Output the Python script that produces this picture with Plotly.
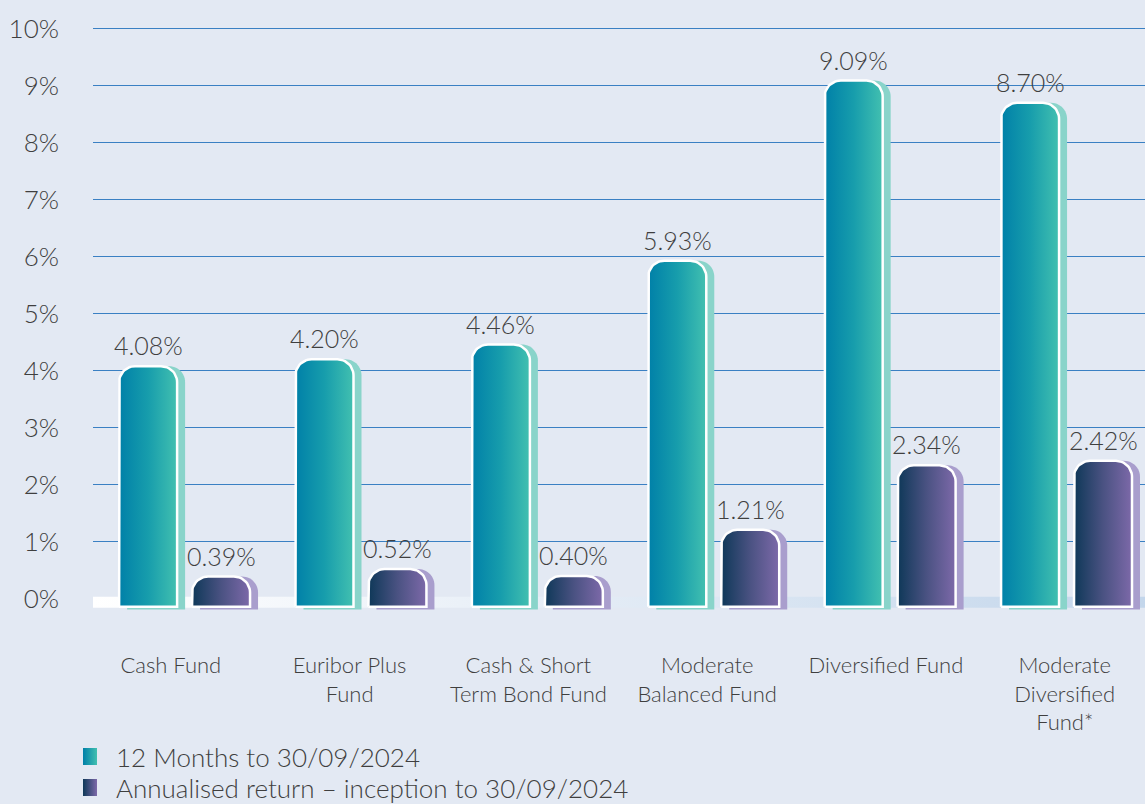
import base64
import numpy as np
import plotly.graph_objects as go

# ---- data -------------------------------------------------------------
categories = [
    "Cash Fund",
    "Euribor Plus<br>Fund",
    "Cash & Short<br>Term Bond Fund",
    "Moderate<br>Balanced Fund",
    "Diversified Fund",
    "Moderate<br>Diversified<br>Fund*",
]
twelve_month = [4.08, 4.20, 4.46, 5.93, 9.09, 8.70]
since_inception = [0.39, 0.52, 0.40, 1.21, 2.34, 2.42]
series_names = [
    "12 Months to 30/09/2024",
    "Annualised return – inception to 30/09/2024",
]
y_ticks = list(range(0, 11))

# ---- styling / geometry ----------------------------------------------
W, H = 1145, 804
MARGIN = dict(l=93, r=0, t=23, b=191)
X_RANGE = [-0.519, 5.445]
Y_RANGE = [-0.25, 10.1]
PX_X = (W - MARGIN["l"] - MARGIN["r"]) / (X_RANGE[1] - X_RANGE[0])
PX_Y = (H - MARGIN["t"] - MARGIN["b"]) / (Y_RANGE[1] - Y_RANGE[0])

FONT = "'Lato Light', Lato, 'Open Sans', sans-serif"
TEXT_COL = "#3f3f3f"
BG = "#e3e9f3"

BAR_W = 58 / PX_X
OFFSETS = [-0.371, 0.0425]          # left edge of each series inside a group
BASE = -0.14                        # bars sit on the base strip
CORNER_PX = 16
SHADOW_PX = 8

GRADS = [
    [[0, "#0080a8"], [0.5, "#179dac"], [1, "#42c0b0"]],
    [[0, "#0e3858"], [0.5, "#4a5282"], [1, "#7d69a9"]],
]
SHADOWS = ["#89d4ca", "#a99ecd"]


def rounded_bar(x0, x1, top, bottom, r_px=CORNER_PX, n=14):
    """Outline of a bar with rounded top corners, in data units."""
    rx = r_px / PX_X
    ry = min(r_px / PX_Y, top - bottom)
    a1 = np.linspace(np.pi, np.pi / 2, n)
    a2 = np.linspace(np.pi / 2, 0, n)
    lx = x0 + rx + rx * np.cos(a1)
    ly = top - ry + ry * np.sin(a1)
    rxs = x1 - rx + rx * np.cos(a2)
    rys = top - ry + ry * np.sin(a2)
    xs = [x0] + list(lx) + list(rxs) + [x1, x0]
    ys = [bottom] + list(ly) + list(rys) + [bottom, bottom]
    return xs, ys


fig = go.Figure()

# base strip along the zero line
fig.add_trace(go.Scatter(
    x=[X_RANGE[0], X_RANGE[1], X_RANGE[1], X_RANGE[0], X_RANGE[0]],
    y=[-0.16, -0.16, 0.035, 0.035, -0.16],
    fill="toself", mode="none",
    fillgradient=dict(type="horizontal",
                      colorscale=[[0, "#ffffff"], [0.3, "#eef3f9"], [1, "#c3d6eb"]]),
    hoverinfo="skip", showlegend=False,
))

annotations = []
for s, values in enumerate([twelve_month, since_inception]):
    for i, v in enumerate(values):
        x0 = i + OFFSETS[s]
        x1 = x0 + BAR_W
        # shadow, shifted to the right
        dx = SHADOW_PX / PX_X
        sx, sy = rounded_bar(x0 + dx, x1 + dx, v, BASE - 0.05)
        fig.add_trace(go.Scatter(
            x=sx, y=sy, fill="toself", mode="none",
            fillcolor=SHADOWS[s], hoverinfo="skip", showlegend=False,
        ))
        bx, by = rounded_bar(x0, x1, v, BASE)
        fig.add_trace(go.Scatter(
            x=bx, y=by, fill="toself", mode="lines",
            line=dict(color="white", width=2.5),
            fillgradient=dict(type="horizontal", colorscale=GRADS[s]),
            name=series_names[s], hoverinfo="skip", showlegend=False,
        ))
        annotations.append(dict(
            x=(x0 + x1) / 2, y=v, xref="x", yref="y",
            text=f"{v:.2f}%", showarrow=False,
            yanchor="bottom", yshift=4,
            font=dict(family=FONT, size=25, color=TEXT_COL, weight=300),
        ))

# legend rows: gradient swatch + label
plot_h = H - MARGIN["t"] - MARGIN["b"]
plot_w = W - MARGIN["l"] - MARGIN["r"]
images = []
for s, name in enumerate(series_names):
    c0, c1 = GRADS[s][0][1], GRADS[s][-1][1]
    svg = (
        '<svg xmlns="http://www.w3.org/2000/svg" width="14" height="17">'
        '<defs><linearGradient id="g" x1="0" x2="1" y1="0" y2="0">'
        f'<stop offset="0" stop-color="{c0}"/><stop offset="1" stop-color="{c1}"/>'
        '</linearGradient></defs><rect width="14" height="17" fill="url(#g)"/></svg>'
    )
    src = "data:image/svg+xml;base64," + base64.b64encode(svg.encode()).decode()
    top_px = 748 + 31 * s
    images.append(dict(
        source=src, xref="paper", yref="paper",
        x=(83 - MARGIN["l"]) / plot_w, y=(H - MARGIN["b"] - top_px) / plot_h,
        sizex=14 / plot_w, sizey=17 / plot_h,
        xanchor="left", yanchor="top", sizing="stretch", layer="above",
    ))
    annotations.append(dict(
        x=(115 - MARGIN["l"]) / plot_w, y=(H - MARGIN["b"] - (top_px + 8.5)) / plot_h,
        xref="paper", yref="paper", xanchor="left", yanchor="middle",
        text=name, showarrow=False, borderpad=0,
        font=dict(family=FONT, size=26, color=TEXT_COL, weight=300),
    ))

# category label positions run on a slightly wider pitch than the bar groups
label_pos = [-0.078 + 1.0136 * i for i in range(len(categories))]

fig.update_layout(
    width=W, height=H,
    margin=dict(**MARGIN, pad=0, autoexpand=False),
    paper_bgcolor=BG, plot_bgcolor=BG,
    showlegend=False,
    annotations=annotations,
    images=images,
    xaxis=dict(
        range=X_RANGE, showgrid=False, zeroline=False, showline=False,
        tickvals=label_pos,
        ticktext=categories, ticks="", ticklabelstandoff=37,
        tickfont=dict(family=FONT, size=22, color=TEXT_COL, weight=300),
        fixedrange=True,
    ),
    yaxis=dict(
        range=Y_RANGE, tickvals=y_ticks, ticktext=[f"{t}%" for t in y_ticks],
        showgrid=True, gridcolor="#3a80c3", gridwidth=1.3,
        zeroline=False, showline=False, ticks="", ticklabelstandoff=33,
        tickfont=dict(family=FONT, size=26, color=TEXT_COL, weight=300),
        fixedrange=True,
    ),
)

fig.write_html("out.html")
